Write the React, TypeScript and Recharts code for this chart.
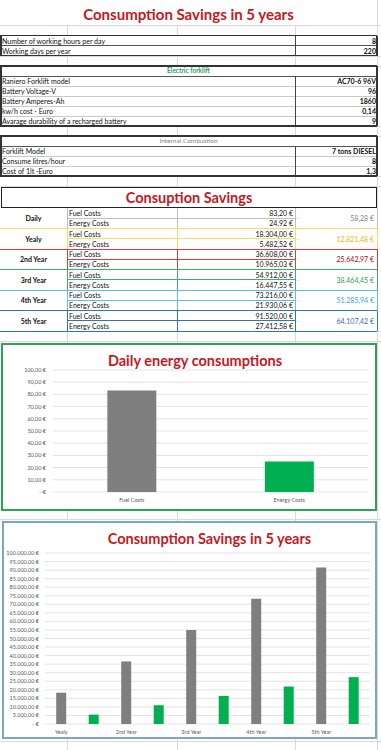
import React from 'react'
import { BarChart, Bar, XAxis, YAxis, CartesianGrid, Cell } from 'recharts'

const generalLabels = ['Number of working hours per day', 'Working days per year']
const generalValues = ['8', '220']

const electricLabels = [
  'Raniero Forklift model',
  'Battery Voltage-V',
  'Battery Amperes-Ah',
  'kw/h cost - Euro',
  'Avarage durability of a recharged battery'
]
const electricValues = ['AC70-6 96V', '96', '1860', '0,14', '9']

const combustionLabels = ['Forklift Model', 'Consume litres/hour', 'Cost of 1lt -Euro']
const combustionValues = ['7 tons DIESEL', '8', '1,3']

const periods = ['Daily', 'Yealy', '2nd Year', '3rd Year', '4th Year', '5th Year']
const fuelCosts = [83.2, 18304, 36608, 54912, 73216, 91520]
const energyCosts = [24.92, 5482.52, 10965.03, 16447.55, 21930.06, 27412.58]
const savings = [58.28, 12821.48, 25642.97, 38464.45, 51285.94, 64107.42]

const dailyTicks = [0, 10, 20, 30, 40, 50, 60, 70, 80, 90, 100]
const yearTicks = [
  0, 5000, 10000, 15000, 20000, 25000, 30000, 35000, 40000, 45000, 50000,
  55000, 60000, 65000, 70000, 75000, 80000, 85000, 90000, 95000, 100000
]

const periodLine = ['#bfbfbf', '#ffd966', '#e0393e', '#3fae6a', '#5bc0e6', '#2e75b6']
const periodText = ['#7f7f7f', '#f2b400', '#c00000', '#2e9e5e', '#35a3d6', '#2f6db5']

const FONT = 'Lato, "Open Sans", sans-serif'
const RED = '#c8171e'
const FUEL = '#7f7f7f'
const ENERGY = '#00b050'

const euro = (v: number) => {
  if (v === 0) return '-    €'
  const [i, d] = v.toFixed(2).split('.')
  return i.replace(/\B(?=(\d{3})+(?!\d))/g, '.') + ',' + d + ' €'
}

const dailyData = [
  { name: 'Fuel Costs', value: fuelCosts[0] },
  { name: 'Energy Costs', value: energyCosts[0] }
]

const yearData = periods.slice(1).flatMap((p, i) => [
  { name: p, value: fuelCosts[i + 1], kind: 'fuel' },
  { name: p + ' ', value: energyCosts[i + 1], kind: 'energy' }
])

function Txt({ x, y, w, h, align = 'left', size = 7, style, children }: any) {
  return (
    <div
      style={{
        position: 'absolute',
        left: x,
        top: y,
        width: w,
        height: h,
        lineHeight: h + 'px',
        textAlign: align,
        fontSize: size,
        whiteSpace: 'nowrap',
        padding: '0 2px',
        boxSizing: 'border-box',
        color: '#111',
        ...style
      }}
    >
      {children}
    </div>
  )
}

function HL({ x1, x2, y, c, t = 1 }: any) {
  return <div style={{ position: 'absolute', left: x1, top: y - t / 2, width: x2 - x1, height: t, background: c }} />
}

function VL({ x, y1, y2, c, t = 1 }: any) {
  return <div style={{ position: 'absolute', left: x - t / 2, top: y1, width: t, height: y2 - y1, background: c }} />
}

const COLS = [0, 67, 177, 295, 377]
const DARK = '#333'
const LIGHT = '#c9c9c9'

function ParamTable({ top, labels, values, header, headerStyle }: any) {
  const rh = 10
  const rows = labels.length + (header ? 1 : 0)
  const bottom = top + rows * rh
  const bodyTop = header ? top + rh : top
  return (
    <>
      <div style={{ position: 'absolute', left: 0, top, width: 377, height: bottom - top, background: '#fff' }} />
      {header && (
        <Txt x={0} y={top} w={377} h={rh} align="center" size={6.5} style={headerStyle}>
          {header}
        </Txt>
      )}
      {labels.map((l: string, i: number) => (
        <React.Fragment key={l}>
          <Txt x={0} y={bodyTop + i * rh} w={295} h={rh}>{l}</Txt>
          <Txt x={295} y={bodyTop + i * rh} w={82} h={rh} align="right" style={{ fontWeight: 700, paddingRight: 1 }}>
            {values[i]}
          </Txt>
          {i > 0 && <HL x1={0} x2={377} y={bodyTop + i * rh} c={header ? LIGHT : '#555'} />}
        </React.Fragment>
      ))}
      {header && <HL x1={0} x2={377} y={bodyTop} c="#555" />}
      <VL x={295} y1={bodyTop} y2={bottom} c="#444" />
      <HL x1={0} x2={377} y={top} c={DARK} t={1.5} />
      <HL x1={0} x2={377} y={bottom} c={DARK} t={1.5} />
      <VL x={0.75} y1={top} y2={bottom} c={DARK} t={1.5} />
      <VL x={377} y1={top} y2={bottom} c={DARK} t={1.5} />
    </>
  )
}

function SavingsTable() {
  const top = 208
  const rh = 10.25
  return (
    <>
      <div style={{ position: 'absolute', left: 0, top: 187, width: 377, height: 331 - 187, background: '#fff' }} />
      <div
        style={{
          position: 'absolute',
          left: 1,
          top: 187,
          width: 376,
          height: 21,
          border: '1.5px solid #222',
          boxSizing: 'border-box',
          textAlign: 'center',
          lineHeight: '19px',
          fontSize: 14.5,
          fontWeight: 700,
          color: RED
        }}
      >
        Consuption Savings
      </div>
      {periods.map((p, g) => {
        const y0 = top + g * rh * 2
        const c = periodLine[g]
        return (
          <React.Fragment key={p}>
            <Txt x={0} y={y0} w={67} h={rh * 2} align="center" size={7} style={{ fontWeight: 700 }}>{p}</Txt>
            <Txt x={67} y={y0} w={110} h={rh}>Fuel Costs</Txt>
            <Txt x={67} y={y0 + rh} w={110} h={rh}>Energy Costs</Txt>
            <Txt x={177} y={y0} w={118} h={rh} align="right">{euro(fuelCosts[g])}</Txt>
            <Txt x={177} y={y0 + rh} w={118} h={rh} align="right">{euro(energyCosts[g])}</Txt>
            <Txt x={295} y={y0} w={20} h={rh * 2} size={5} style={{ color: '#888' }}>-</Txt>
            <Txt x={295} y={y0} w={82} h={rh * 2} align="right" size={7} style={{ color: periodText[g], paddingRight: 3 }}>
              {euro(savings[g])}
            </Txt>
            <HL x1={67} x2={295} y={y0 + rh} c={c} />
            {g > 0 && <HL x1={0} x2={377} y={y0} c={c} />}
            <HL x1={0} x2={377} y={y0 + rh * 2} c={c} />
            <VL x={67} y1={y0} y2={y0 + rh * 2} c={c} />
            <VL x={177} y1={y0} y2={y0 + rh * 2} c={c} />
            <VL x={295} y1={y0} y2={y0 + rh * 2} c={c} />
            <VL x={377} y1={y0} y2={y0 + rh * 2} c={c} />
          </React.Fragment>
        )
      })}
    </>
  )
}

const YTick = ({ x, y, payload }: any) => (
  <text x={x} y={y} dy={2} textAnchor="end" fill="#595959" fontSize={5.5} fontFamily={FONT}>
    {euro(payload.value)}
  </text>
)

const XTick = ({ x, y, payload }: any) => (
  <text x={x} y={y} dy={4} textAnchor="middle" fill="#595959" fontSize={5.5} fontFamily={FONT}>
    {payload.value}
  </text>
)

function DailyChart() {
  return (
    <div
      style={{
        position: 'absolute',
        left: 1,
        top: 343,
        width: 376,
        height: 168,
        border: '2px solid #2ea05a',
        boxSizing: 'border-box',
        background: '#fff'
      }}
    >
      <div style={{ position: 'absolute', left: 0, width: 372, top: 7, textAlign: 'center', fontSize: 14.5, fontWeight: 700, color: RED, lineHeight: '18px', paddingLeft: 12, boxSizing: 'border-box' }}>
        Daily energy consumptions
      </div>
      <BarChart width={372} height={164} data={dailyData} margin={{ top: 25, right: 7, bottom: 0, left: 0 }} barCategoryGap="34.5%">
        <CartesianGrid vertical={false} stroke="#e3e3e3" />
        <XAxis dataKey="name" axisLine={false} tickLine={false} tickSize={4} tickMargin={2} height={17} tick={<XTick />} />
        <YAxis
          domain={[0, 100]}
          ticks={dailyTicks}
          interval={0}
          width={50}
          axisLine={false}
          tickLine={false}
          tickSize={6}
          tickMargin={1}
          tick={<YTick />}
        />
        <Bar dataKey="value" isAnimationActive={false}>
          {dailyData.map((d, i) => (
            <Cell key={d.name} fill={i === 0 ? FUEL : ENERGY} />
          ))}
        </Bar>
      </BarChart>
    </div>
  )
}

function YearChart() {
  return (
    <div
      style={{
        position: 'absolute',
        left: 2,
        top: 521,
        width: 375,
        height: 218,
        border: '2px solid #7aa6c8',
        boxSizing: 'border-box',
        background: '#fff'
      }}
    >
      <div style={{ position: 'absolute', left: 0, width: 371, top: 7, textAlign: 'center', fontSize: 14.5, fontWeight: 700, color: RED, lineHeight: '18px', paddingLeft: 40, boxSizing: 'border-box' }}>
        Consumption Savings in 5 years
      </div>
      <BarChart width={371} height={214} data={yearData} margin={{ top: 30, right: 5, bottom: 0, left: 0 }} barCategoryGap="34.5%">
        <CartesianGrid vertical={false} stroke="#e3e3e3" />
        <XAxis dataKey="name" axisLine={false} tickLine={false} interval={1} tickSize={4} tickMargin={2} height={13} tick={<XTick />} />
        <YAxis
          domain={[0, 100000]}
          ticks={yearTicks}
          interval={0}
          width={41}
          axisLine={false}
          tickLine={false}
          tickSize={4}
          tickMargin={2}
          tick={<YTick />}
        />
        <Bar dataKey="value" isAnimationActive={false}>
          {yearData.map((d) => (
            <Cell key={d.name} fill={d.kind === 'fuel' ? FUEL : ENERGY} />
          ))}
        </Bar>
      </BarChart>
    </div>
  )
}

const gridRows = [25.5, 56, 66, 126, 136, 176, 186, 331, 341.5, 519, 741]

export default function App() {
  return (
    <div style={{ position: 'relative', width: 381, height: 750, background: '#fff', fontFamily: FONT, overflow: 'hidden' }}>
      <style>{'body{margin:0}'}</style>
      {COLS.slice(1).map((x) => (
        <VL key={x} x={x} y1={0} y2={750} c="#d9d9d9" />
      ))}
      {gridRows.map((y) => (
        <HL key={y} x1={0} x2={381} y={y} c="#d9d9d9" />
      ))}
      <div style={{ position: 'absolute', left: 0, top: 0, width: 377, height: 25, background: '#fff' }} />
      <div style={{ position: 'absolute', left: 0, top: 3, width: 377, textAlign: 'center', fontSize: 15, fontWeight: 700, color: RED, lineHeight: '22px' }}>
        Consumption Savings in 5 years
      </div>
      <ParamTable top={35.5} labels={generalLabels} values={generalValues} />
      <ParamTable
        top={66}
        labels={electricLabels}
        values={electricValues}
        header="Electric forklift"
        headerStyle={{ color: '#2e9e5e', fontWeight: 700 }}
      />
      <ParamTable
        top={136}
        labels={combustionLabels}
        values={combustionValues}
        header="Internal Combustion"
        headerStyle={{ color: '#7f7f7f' }}
      />
      <SavingsTable />
      <DailyChart />
      <YearChart />
    </div>
  )
}
